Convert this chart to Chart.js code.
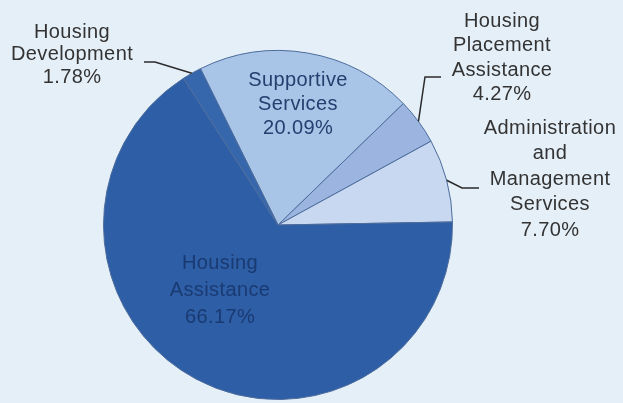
<!DOCTYPE html>
<html>
<head>
<meta charset="utf-8">
<script src="https://cdn.jsdelivr.net/npm/chart.js@4.4.0/dist/chart.umd.min.js"></script>
<style>
    html, body { margin: 0; padding: 0; background: #e5eff8; }
    #fundingChart { display: block; }
</style>
</head>
<body>
<canvas id="fundingChart" width="623" height="403"></canvas>
<script>
// Chart data
const categories = [
    'Supportive Services',
    'Housing Placement Assistance',
    'Administration and Management Services',
    'Housing Assistance',
    'Housing Development'
]
const shares = [20.09, 4.27, 7.70, 66.17, 1.78]
// label lines as printed on the chart
const labelLines = [
    ['Supportive', 'Services'],
    ['Housing', 'Placement', 'Assistance'],
    ['Administration', 'and', 'Management', 'Services'],
    ['Housing', 'Assistance'],
    ['Housing', 'Development']
]

const sliceColors = ['#a8c4e7', '#9cb5e0', '#c7d8f0', '#2d5ea6', '#3667ad']

// where each label sits; inside labels have no leader line
const labelPlace = [
    {x: 298, y: 80, gap: 24, color: '#23406f'},
    {x: 502, y: 21, gap: 24.5, color: '#333', elbow: [425, 77], end: [441, 77]},
    {x: 550, y: 128, gap: 25.5, color: '#333', elbow: [462, 188], end: [479, 188]},
    {x: 220, y: 263, gap: 27, color: '#1a3a72'},
    {x: 72, y: 32, gap: 22.5, color: '#333', elbow: [155, 62], end: [144, 62]}
]

// draws labels and leader lines
const pieLabels = {
    id: 'pieLabels',
    afterDatasetsDraw(chart) {
        const ctx = chart.ctx
        const meta = chart.getDatasetMeta(0)
        ctx.save()
        ctx.font = '20px "Liberation Sans", Arial, sans-serif'
        ctx.letterSpacing = '0.4px'
        ctx.textAlign = 'center'
        ctx.textBaseline = 'middle'
        meta.data.forEach(function (arc, i) {
            const p = arc.getProps(['x', 'y', 'startAngle', 'endAngle', 'outerRadius'], true)
            const place = labelPlace[i]
            if (place.elbow) {
                const mid = (p.startAngle + p.endAngle) / 2
                ctx.beginPath()
                ctx.moveTo(p.x + Math.cos(mid) * p.outerRadius, p.y + Math.sin(mid) * p.outerRadius)
                ctx.lineTo(place.elbow[0], place.elbow[1])
                ctx.lineTo(place.end[0], place.end[1])
                ctx.strokeStyle = '#2b2b2b'
                ctx.lineWidth = 1.5
                ctx.stroke()
            }
            const lines = labelLines[i].concat([shares[i].toFixed(2) + '%'])
            ctx.fillStyle = place.color
            lines.forEach(function (t, k) {
                ctx.fillText(t, place.x, place.y + k * place.gap)
            })
        })
        ctx.restore()
    }
}

const ctx = document.getElementById('fundingChart')
// eslint-disable-next-line no-unused-vars
const myChart = new Chart(ctx, {
    type: 'pie',
    data: {
        labels: categories,
        datasets: [{
            data: shares,
            backgroundColor: sliceColors,
            borderColor: '#4d6c9c',
            borderWidth: 1
        }]
    },
    options: {
        responsive: false,
        animation: false,
        rotation: -26.4,
        layout: {
            padding: {left: 103, right: 170, top: 50, bottom: 3}
        },
        plugins: {
            legend: {display: false},
            tooltip: {enabled: false}
        }
    },
    plugins: [pieLabels]
})
</script>
</body>
</html>
